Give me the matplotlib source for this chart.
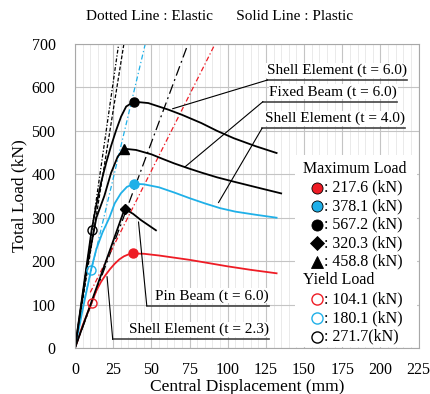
import numpy as np
import matplotlib
matplotlib.use("Agg")
import matplotlib.pyplot as plt
from matplotlib.patches import Rectangle

plt.rcParams['font.family'] = ['Liberation Serif', 'DejaVu Serif']

RED = '#ee1c25'
BLUE = '#1fb0e8'

# Plastic curves (Central displacement mm, total load kN)
shell23_x = [0, 5, 10.9, 14, 17, 20, 23, 26, 29, 32, 35, 38, 45, 55, 65, 75, 85, 100, 115, 132]
shell23_y = [0, 52, 104.1, 132, 152, 168, 182, 194, 204, 211, 215.5, 217.6, 217, 213, 208, 203, 197, 188, 180, 172]

shell40_x = [0, 5, 10.5, 14, 18, 22.5, 26, 30, 34, 38.7, 45, 55, 65, 75, 85, 95, 105, 118, 132]
shell40_y = [0, 88, 180.1, 228, 266, 300, 333, 356, 371, 378.1, 377, 370, 358, 345, 333, 322, 314, 307, 300]

shell60_x = [0, 5, 10.9, 14, 17, 20.3, 23.6, 27, 30.2, 33.5, 38.5, 48, 61, 70, 82.7, 93, 104, 118, 132]
shell60_y = [0, 125, 271.7, 330, 380, 425, 465, 502, 533, 556, 567.2, 564, 549, 537, 518, 500, 483, 465, 449]

fixed_x = [0, 8, 14, 19.2, 23.6, 28, 32.4, 40, 50, 57, 65, 74, 82.7, 93, 104, 120, 135]
fixed_y = [0, 190, 300, 350, 403, 441, 458.8, 456, 446, 436, 425, 414, 404, 393, 383, 369, 356]

pin_x = [0, 32.5, 38, 43, 48, 53]
pin_y = [0, 320.3, 309, 295, 283, 271]

# Elastic lines (start / end points)
el_shell60_x = [0, 28.6]
el_shell60_y = [0, 700]
el_fixed_x = [0, 32]
el_fixed_y = [0, 700]
el_shell40_x = [6, 46]
el_shell40_y = [110, 700]
el_pin_x = [0, 74]
el_pin_y = [0, 700]
el_shell23_x = [10, 91.7]
el_shell23_y = [128, 700]

# Maximum / yield load points
max_x = [38, 38.7, 38.5, 32.5, 32.0]
max_y = [217.6, 378.1, 567.2, 320.3, 458.8]
max_labels = [': 217.6 (kN)', ': 378.1 (kN)', ': 567.2 (kN)', ': 320.3 (kN)', ': 458.8 (kN)']
yield_x = [10.9, 10.5, 10.9]
yield_y = [104.1, 180.1, 271.7]
yield_labels = [': 104.1 (kN)', ': 180.1 (kN)', ': 271.7(kN)']

fig = plt.figure(figsize=(4.3, 3.94), dpi=100)
ax = fig.add_axes([75 / 430, 46 / 394, 343.6 / 430, 304 / 394])

ax.set_xlim(0, 225)
ax.set_ylim(0, 700)
ax.set_xticks(np.arange(0, 226, 25))
ax.set_yticks(np.arange(0, 701, 100))
ax.set_xticks(np.arange(0, 226, 5), minor=True)
ax.grid(which='major', axis='x', color='#c4c4c4', lw=0.8)
ax.grid(which='minor', axis='x', color='#e6e6e6', lw=0.6)
ax.grid(which='major', axis='y', color='#c4c4c4', lw=0.8)
ax.tick_params(which='both', length=0, labelsize=11.5)
ax.tick_params(axis='x', pad=10)
ax.tick_params(axis='y', pad=14)
for s in ax.spines.values():
    s.set_color('#a8a8a8')
    s.set_linewidth(0.8)

# elastic
ax.plot(el_shell60_x, el_shell60_y, color='black', lw=0.9, dashes=(3, 1.5, 1, 1.5))
ax.plot(el_fixed_x, el_fixed_y, color='black', lw=0.9, dashes=(3, 1.5))
ax.plot(el_shell40_x, el_shell40_y, color=BLUE, lw=0.9, dashes=(4, 2, 1, 2))
ax.plot(el_pin_x, el_pin_y, color='black', lw=0.9, dashes=(8, 3, 1.5, 3))
ax.plot(el_shell23_x, el_shell23_y, color=RED, lw=0.9, dashes=(4, 2, 1, 2))

# plastic
ax.plot(shell23_x, shell23_y, color=RED, lw=1.3)
ax.plot(shell40_x, shell40_y, color=BLUE, lw=1.3)
ax.plot(shell60_x, shell60_y, color='black', lw=1.3)
ax.plot(fixed_x, fixed_y, color='black', lw=1.3)
ax.plot(pin_x, pin_y, color='black', lw=1.3)

max_marks = ['o', 'o', 'o', 'D', '^']
max_cols = [RED, BLUE, 'black', 'black', 'black']
plot_sizes = [6.5, 6.5, 6.5, 5.5, 7.5]
for x, y, m, c, s in zip(max_x, max_y, max_marks, max_cols, plot_sizes):
    ax.plot(x, y, marker=m, color=c, ms=s, mec=c, zorder=5)
yield_cols = [RED, BLUE, 'black']
for x, y, c in zip(yield_x, yield_y, yield_cols):
    ax.plot(x, y, marker='o', mfc='none', mec=c, ms=6.5, mew=1.0, zorder=5)

# annotations with underline + leader
notes = [
    ('Shell Element (t = 6.0)', 126, 217.5, 617, 64, 551),
    ('Fixed Beam (t = 6.0)', 123, 211, 567, 72, 417),
    ('Shell Element (t = 4.0)', 122.5, 216, 506, 94, 335),
    ('Pin Beam (t = 6.0)', 47, 127, 97.5, 41.6, 290),
    ('Shell Element (t = 2.3)', 24.7, 127, 20, 21, 164),
]
for txt, x0, x1, yl, lx, ly in notes:
    ax.plot([x0, x1], [yl, yl], color='#444444', lw=1.2, zorder=6)
    ax.plot([x0, lx], [yl, ly], color='black', lw=0.8, zorder=6)
    ax.text(x1, yl + 7, txt, ha='right', va='bottom', fontsize=11, zorder=7,
            bbox=dict(fc='white', ec='none', pad=0.5))

# legend box
ax.add_patch(Rectangle((144, 3), 80, 442, fc='white', ec='none', zorder=4))
ax.text(149, 412, 'Maximum Load', fontsize=11.5, va='center', zorder=7)
leg_max_y = [369, 327, 284, 242, 199]
leg_sizes = [8, 8, 8, 7, 9]
for y, m, c, s, lab in zip(leg_max_y, max_marks, max_cols, leg_sizes, max_labels):
    ax.plot(158.5, y, marker=m, color=c, ms=s, mec='black' if c != 'black' else c,
            mew=0.6, zorder=7)
    ax.text(163, y, lab, fontsize=11.5, va='center', zorder=7)
ax.text(149, 157, 'Yield Load', fontsize=11.5, va='center', zorder=7)
leg_yield_y = [113, 69, 26]
for y, c, lab in zip(leg_yield_y, yield_cols, yield_labels):
    ax.plot(158.5, y, marker='o', mfc='none', mec=c, ms=8, mew=1.0, zorder=7)
    ax.text(163, y, lab, fontsize=11.5, va='center', zorder=7)

ax.set_xlabel('Central Displacement (mm)', fontsize=12.5, labelpad=1)
ax.set_ylabel('Total Load (kN)', fontsize=12.5, labelpad=3)

fig.text(0.51, 0.957, 'Dotted Line : Elastic      Solid Line : Plastic',
         ha='center', va='center', fontsize=11)

fig.savefig('out.png', dpi=100)
